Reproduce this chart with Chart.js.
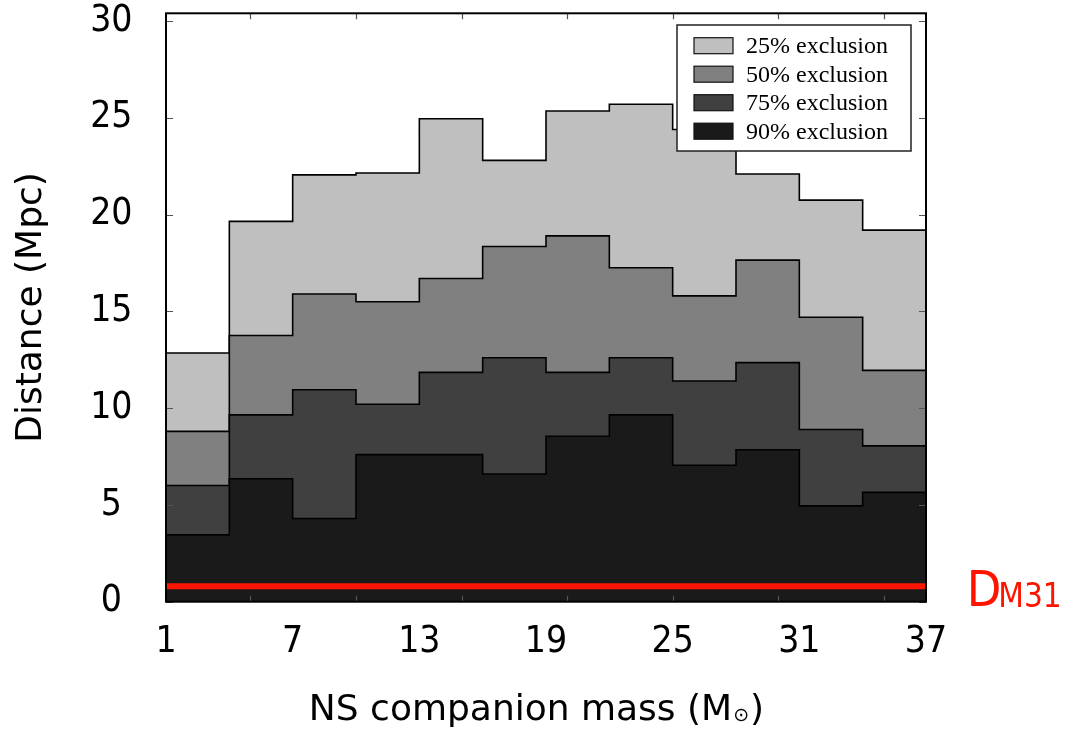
<!DOCTYPE html>
<html><head><meta charset="utf-8">
<script src="https://cdn.jsdelivr.net/npm/chart.js@4.4.1/dist/chart.umd.min.js"></script>
<style>html,body{margin:0;padding:0;background:#fff;}#wrap{width:1066px;height:729px;}</style>
</head><body><div id="wrap"><canvas id="c" width="1066" height="729"></canvas></div>
<script>
// ---- data ----
const binEdges = [1, 4, 7, 10, 13, 16, 19, 22, 25, 28, 31, 34, 37];
const excl25 = [12.85, 19.65, 22.05, 22.15, 24.95, 22.8, 25.35, 25.7, 24.4, 22.1, 20.75, 19.2];
const excl50 = [8.8, 13.75, 15.9, 15.5, 16.7, 18.35, 18.9, 17.25, 15.8, 17.65, 14.7, 11.95];
const excl75 = [6.0, 9.65, 10.95, 10.2, 11.85, 12.6, 11.85, 12.6, 11.4, 12.35, 8.9, 8.05];
const excl90 = [3.45, 6.35, 4.3, 7.6, 7.6, 6.6, 8.55, 9.65, 7.05, 7.85, 4.95, 5.65];
const seriesLabels = ['25% exclusion', '50% exclusion', '75% exclusion', '90% exclusion'];
const xTickValues = [1, 7, 13, 19, 25, 31, 37];
const yTickValues = [0, 5, 10, 15, 20, 25, 30];
const minorXTicks = [5, 10, 15, 20, 25, 30, 35];
const dM31 = 0.8;
const dM31Label = ['D', 'M31'];
const xTitleParts = ['NS companion mass (M', '\u2299', ')'];
const yTitle = 'Distance (Mpc)';

// ---- styles ----
const fills = ['#bfbfbf', '#808080', '#404040', '#1a1a1a'];
const red = '#ff1400';
const tickFont = {family: '"DejaVu Sans Condensed", "DejaVu Sans", sans-serif', size: 37};

function stepPoints(vals) {
  const pts = vals.map((v, i) => ({x: binEdges[i], y: v}));
  pts.push({x: binEdges[binEdges.length - 1], y: vals[vals.length - 1]});
  return pts;
}

const series = [excl25, excl50, excl75, excl90];
const datasets = series.map((vals, i) => ({
  label: seriesLabels[i],
  data: stepPoints(vals),
  stepped: true,
  fill: 'origin',
  backgroundColor: fills[i],
  borderColor: '#000',
  borderWidth: 1.6,
  pointRadius: 0,
  order: 4 - i
}));
datasets.push({
  label: 'D_M31',
  data: [{x: binEdges[0], y: dM31}, {x: binEdges[binEdges.length - 1], y: dM31}],
  borderColor: red,
  borderWidth: 6,
  pointRadius: 0,
  fill: false,
  order: 0,
  isRef: true
});

function zeroPad(s) { s.paddingTop = 0; s.paddingBottom = 0; s.paddingLeft = 0; s.paddingRight = 0; }

const decor = {
  id: 'decor',
  afterDatasetsDraw(chart) {
    const {ctx, chartArea: a, scales: {x, y}} = chart;
    ctx.save();
    ctx.strokeStyle = '#555';
    ctx.lineWidth = 1.2;
    ctx.beginPath();
    minorXTicks.forEach(v => {
      const px = Math.round(x.getPixelForValue(v)) + 0.5;
      ctx.moveTo(px, a.bottom); ctx.lineTo(px, a.bottom - 6);
      ctx.moveTo(px, a.top); ctx.lineTo(px, a.top + 6);
    });
    yTickValues.forEach(v => {
      const py = Math.round(y.getPixelForValue(v)) + 0.5;
      ctx.moveTo(a.left, py); ctx.lineTo(a.left + 7, py);
      ctx.moveTo(a.right, py); ctx.lineTo(a.right - 7, py);
    });
    ctx.stroke();
    ctx.strokeStyle = '#000';
    ctx.lineWidth = 2;
    ctx.strokeRect(a.left, a.top, a.right - a.left, a.bottom - a.top);
    ctx.restore();
  },
  afterDraw(chart) {
    const {ctx, chartArea: a, scales: {y}} = chart;
    ctx.save();
    // legend
    const bw = 234, bh = 126;
    const bx = a.right - 15 - bw, by = a.top + 11.7;
    ctx.fillStyle = '#fff';
    ctx.fillRect(bx, by, bw, bh);
    ctx.strokeStyle = '#222';
    ctx.lineWidth = 1.5;
    ctx.strokeRect(bx, by, bw, bh);
    ctx.font = '24px "Liberation Serif", "DejaVu Serif", serif';
    ctx.textBaseline = 'alphabetic';
    ctx.textAlign = 'left';
    chart.data.datasets.filter(d => !d.isRef).forEach((d, i) => {
      const cy = by + 20.7 + i * 28.5;
      ctx.fillStyle = d.backgroundColor;
      ctx.fillRect(bx + 17, cy - 8, 39, 16);
      ctx.strokeStyle = '#111';
      ctx.lineWidth = 1.2;
      ctx.strokeRect(bx + 17, cy - 8, 39, 16);
      ctx.fillStyle = '#000';
      ctx.fillText(d.label, bx + 69, cy + 7.6);
    });
    // D_M31 label
    const ly = y.getPixelForValue(dM31);
    ctx.fillStyle = red;
    ctx.font = '50px "DejaVu Sans Condensed", "DejaVu Sans", sans-serif';
    const dx = a.right + 40.7;
    ctx.fillText(dM31Label[0], dx, ly + 19.4);
    const dw = ctx.measureText(dM31Label[0]).width;
    ctx.font = '33px "DejaVu Sans Condensed", "DejaVu Sans", sans-serif';
    ctx.fillText(dM31Label[1], dx + dw - 3, ly + 20.7);
    // x title with subscript
    ctx.fillStyle = '#000';
    const big = '36px "DejaVu Sans", sans-serif';
    const small = '19px "DejaVu Sans", sans-serif';
    ctx.font = big;
    const w0 = ctx.measureText(xTitleParts[0]).width;
    const w2 = ctx.measureText(xTitleParts[2]).width;
    ctx.font = small;
    const w1 = ctx.measureText(xTitleParts[1]).width;
    const total = w0 + w1 + w2 + 2;
    const cx = (a.left + a.right) / 2 - 9.5;
    const base = a.bottom + 118.3;
    let sx = cx - total / 2;
    ctx.font = big;
    ctx.fillText(xTitleParts[0], sx, base);
    sx += w0 + 1;
    ctx.font = small;
    ctx.fillText(xTitleParts[1], sx, base + 1);
    sx += w1 + 1;
    ctx.font = big;
    ctx.fillText(xTitleParts[2], sx, base);
    ctx.restore();
  }
};

new Chart(document.getElementById('c'), {
  type: 'line',
  data: {datasets},
  options: {
    responsive: false,
    animation: false,
    devicePixelRatio: 1,
    layout: {padding: {top: 13.3, right: 140, bottom: 0, left: 0}},
    plugins: {legend: {display: false}, tooltip: {enabled: false}},
    scales: {
      x: {
        type: 'linear', min: 1, max: 37,
        afterBuildTicks: s => { s.ticks = xTickValues.map(v => ({value: v})); },
        afterFit: s => { s.height = 127.3; zeroPad(s); },
        ticks: {font: tickFont, color: '#000', padding: 18.5, maxRotation: 0, autoSkip: false},
        grid: {display: false, drawTicks: false},
        border: {display: false}
      },
      y: {
        type: 'linear', min: 0, max: 30.4,
        afterBuildTicks: s => { s.ticks = yTickValues.map(v => ({value: v})); },
        afterFit: s => { s.width = 166; zeroPad(s); },
        ticks: {font: tickFont, color: '#000', padding: 33.5, crossAlign: 'center'},
        grid: {display: false, drawTicks: false},
        border: {display: false},
        title: {display: true, text: yTitle, color: '#000',
          font: {family: '"DejaVu Sans", sans-serif', size: 36, lineHeight: 1.2},
          padding: {top: 10.4, bottom: 0}}
      }
    }
  },
  plugins: [decor]
});
</script>
</body></html>
